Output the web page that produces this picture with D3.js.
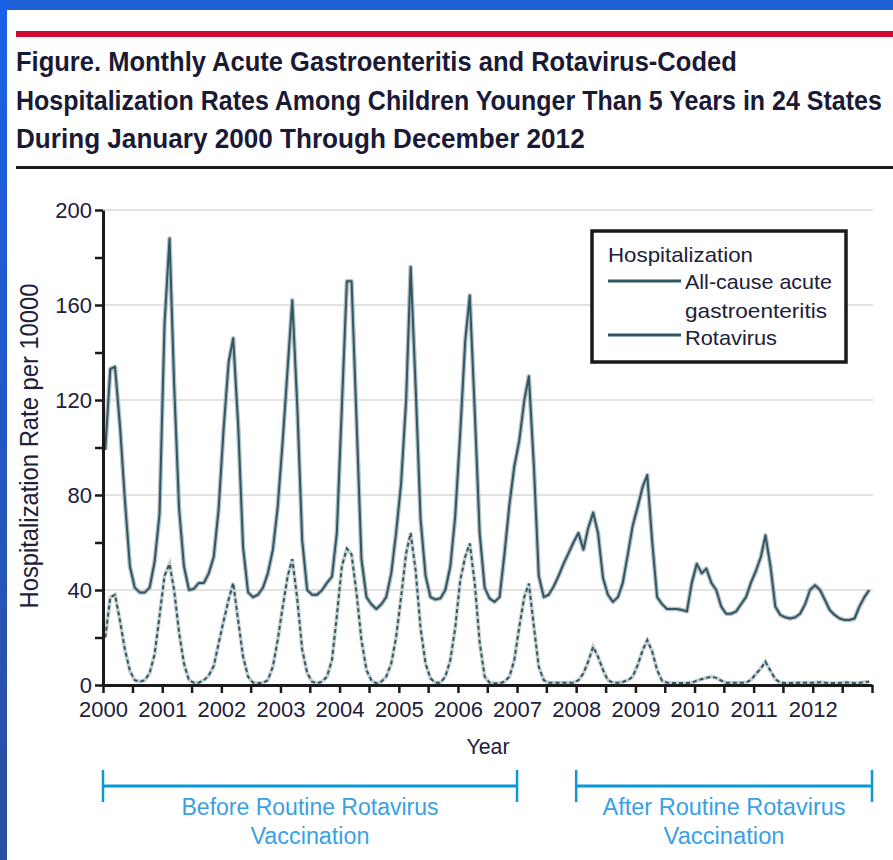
<!DOCTYPE html>
<html>
<head>
<meta charset="utf-8">
<script src="https://cdn.jsdelivr.net/npm/d3@7"></script>
<style>
  body { margin: 0; background: #ffffff; }
  svg { display: block; }
  text { font-family: "Liberation Sans", Arial, sans-serif; }
</style>
</head>
<body>
<svg id="chart" width="893" height="860"></svg>
<script>
// ---- Data -------------------------------------------------------------
const titleLines = [
  "Figure. Monthly Acute Gastroenteritis and Rotavirus-Coded",
  "Hospitalization Rates Among Children Younger Than 5 Years in 24 States",
  "During January 2000 Through December 2012"
];

const yearLabels = [2000, 2001, 2002, 2003, 2004, 2005, 2006, 2007, 2008, 2009, 2010, 2011, 2012];
const yTickLabels = [0, 40, 80, 120, 160, 200];

// Monthly hospitalization rate per 10 000, January 2000 - December 2012 (one row per year)
const allCause = [
  99, 133, 134, 109, 78, 50, 41, 39, 39, 41, 52, 72,
  152, 188, 127, 74, 50, 40, 40.5, 43, 43, 47, 54, 74,
  108, 136, 146, 109, 58, 39, 37, 38, 41, 47, 57, 75,
  103, 134, 162, 117, 61, 40, 38, 38, 40, 43, 45.6, 64,
  117, 170, 170, 111, 53, 37, 34, 32, 34, 37, 47, 64,
  85, 120, 176, 125, 70, 46, 37, 36, 36.5, 40, 50, 71,
  106, 145, 164, 115, 64, 41, 36.5, 35, 37, 55, 76, 92,
  103, 120, 130, 92, 46, 37, 38, 41.5, 46, 51, 55.5, 60,
  64, 57, 66, 72.6, 64, 45, 38, 35, 37, 43, 55, 67,
  75, 83.5, 88.4, 60, 37, 34, 32, 32, 32, 31.6, 31, 43,
  51, 47, 49, 43, 40, 33, 30, 30, 31, 34, 37, 43,
  48, 54, 63, 50, 33, 29.5, 28.5, 28, 28.5, 30, 34, 40,
  42, 40, 36, 31.6, 29.5, 28, 27.4, 27.4, 28, 33, 37, 40
];

const rotavirus = [
  20, 37, 38, 27, 15, 6, 2, 1.4, 2, 5, 13, 29,
  46, 51, 40, 22, 9, 2, 1, 1, 2, 4, 8, 17.5,
  27, 36, 43, 27, 12, 3.5, 1, 0.7, 1, 2, 7.7, 19,
  33, 46, 53, 36, 15, 5, 1.4, 0.7, 1.4, 3.5, 10.5, 29,
  50, 57.4, 55, 38.6, 19, 6.3, 2, 0.7, 1.4, 3.5, 9, 20,
  37, 55.5, 64, 48, 24, 9, 2.8, 1, 1, 3.5, 10.5, 24,
  44, 54, 59.6, 42.7, 18, 3.5, 1, 0.7, 0.7, 1.4, 3.5, 10.5,
  24.6, 37.2, 42.7, 24.6, 7.7, 2, 1, 1, 1, 1, 1, 1,
  2, 4.9, 9.8, 16.1, 11.9, 6.3, 2, 1, 1, 1.3, 2, 3.5,
  8.4, 14.7, 18.9, 14, 6.3, 1.7, 1, 0.8, 0.8, 0.8, 0.8, 1,
  1.8, 2.5, 3, 3.5, 3, 1.8, 1, 1, 1, 1, 1, 2.1,
  4.6, 7, 9.8, 6, 2.4, 1, 0.8, 0.8, 0.9, 1, 1, 1,
  1, 1.2, 1, 0.8, 0.8, 0.9, 1.1, 1, 0.8, 0.9, 1.2, 1.4
];

const legendTitle = "Hospitalization";
const legendItems = [
  ["All-cause acute", "gastroenteritis"],
  ["Rotavirus"]
];

const periodLabels = [
  ["Before Routine Rotavirus", "Vaccination"],
  ["After Routine Rotavirus", "Vaccination"]
];
const periodStarts = [[2000, 0], [2008, 0]];
const periodEnds = [[2007, 0], [2013, 0]];

// ---- Drawing ----------------------------------------------------------
const svg = d3.select("#chart");
const ink = "#20203a";
const lineDark = "#2f5765";
const lineHalo = "#b7c1c5";
const accent = "#0a98d8";

// squeeze a text horizontally to a target width, keeping its anchor point fixed
function fitWidth(sel, target, ax, ay) {
  const natural = sel.node().getComputedTextLength();
  const s = Math.min(1, target / natural);
  sel.attr("x", 0).attr("y", 0)
    .attr("transform", `translate(${ax},${ay}) scale(${s},1)`);
}

// page frame
const defs = svg.append("defs");
const grad = defs.append("linearGradient").attr("id", "edge").attr("x1", 0).attr("y1", 0).attr("x2", 0).attr("y2", 1);
grad.append("stop").attr("offset", "0%").attr("stop-color", "#1a60e6");
grad.append("stop").attr("offset", "100%").attr("stop-color", "#2b4e9f");
svg.append("rect").attr("x", 0).attr("y", 0).attr("width", 893).attr("height", 10).attr("fill", "#1f5fd8");
svg.append("rect").attr("x", 0).attr("y", 0).attr("width", 7).attr("height", 860).attr("fill", "url(#edge)");

// header rules and title
svg.append("rect").attr("x", 16).attr("y", 31).attr("width", 877).attr("height", 6).attr("fill", "#d10a33");
svg.append("rect").attr("x", 16).attr("y", 166).attr("width", 877).attr("height", 3).attr("fill", "#1a1a1a");

const titleLengths = [721, 866, 569];
const titleG = svg.append("g");
titleLines.forEach((t, i) => {
  const tx = titleG.append("text")
    .attr("font-size", 27)
    .attr("font-weight", "bold")
    .attr("fill", "#1a1a36")
    .text(t);
  fitWidth(tx, titleLengths[i], 16, 71 + i * 38.5);
});

// scales
const x = d3.scaleTime()
  .domain([new Date(2000, 0, 1), new Date(2013, 0, 1)])
  .range([103, 872]);
const y = d3.scaleLinear().domain([0, 200]).range([685, 210]);
const months = allCause.map((d, i) => new Date(2000, i, 15));

// gridlines
svg.append("g").selectAll("line").data(yTickLabels.filter(d => d > 0)).join("line")
  .attr("x1", 103).attr("x2", 873)
  .attr("y1", d => y(d)).attr("y2", d => y(d))
  .attr("stroke", "#e2e2e2").attr("stroke-width", 2);

// series
const line = d3.line().x((d, i) => x(months[i])).y(d => y(d));

const rota = svg.append("g");
rota.append("path").datum(rotavirus).attr("d", line)
  .attr("fill", "none").attr("stroke", "#c8cfd2").attr("stroke-width", 3.8);
rota.append("path").datum(rotavirus).attr("d", line)
  .attr("fill", "none").attr("stroke", lineDark).attr("stroke-width", 2)
  .attr("stroke-dasharray", "4,3");

const ac = svg.append("g");
ac.append("path").datum(allCause).attr("d", line)
  .attr("fill", "none").attr("stroke", lineHalo).attr("stroke-width", 4.5).attr("stroke-linejoin", "round");
ac.append("path").datum(allCause).attr("d", line)
  .attr("fill", "none").attr("stroke", lineDark).attr("stroke-width", 2).attr("stroke-linejoin", "round");

// y axis
const yAxis = svg.append("g").attr("transform", "translate(103,0)")
  .call(d3.axisLeft(y)
    .tickValues(d3.range(0, 201, 20))
    .tickSize(8).tickSizeOuter(0).tickPadding(3)
    .tickFormat(d => yTickLabels.includes(d) ? d : ""));
yAxis.select(".domain").attr("stroke", "#1a1a1a").attr("stroke-width", 3);
yAxis.selectAll(".tick line").attr("stroke", "#1a1a1a").attr("stroke-width", 2.5);
yAxis.selectAll(".tick text").attr("font-size", 22).attr("fill", ink)
  .attr("font-family", "'Liberation Sans', Arial, sans-serif");

// x axis
const xTicks = d3.timeMonth.every(6).range(new Date(2000, 0, 1), new Date(2013, 0, 2));
const xAxis = svg.append("g").attr("transform", "translate(0,685)")
  .call(d3.axisBottom(x)
    .tickValues(xTicks)
    .tickSize(8).tickSizeOuter(0).tickPadding(8)
    .tickFormat(d => (d.getMonth() === 0 && yearLabels.includes(d.getFullYear())) ? d.getFullYear() : ""));
xAxis.select(".domain").attr("stroke", "#1a1a1a").attr("stroke-width", 3);
xAxis.selectAll(".tick line").attr("stroke", "#1a1a1a").attr("stroke-width", 2.5);
xAxis.selectAll(".tick text").attr("font-size", 22).attr("fill", ink)
  .attr("font-family", "'Liberation Sans', Arial, sans-serif");

// axis titles
svg.append("text").attr("x", 488).attr("y", 754).attr("text-anchor", "middle")
  .attr("font-size", 22).attr("fill", ink)
  .attr("textLength", 43).attr("lengthAdjust", "spacingAndGlyphs")
  .text("Year");
svg.append("text").attr("transform", "translate(38,446) rotate(-90)")
  .attr("text-anchor", "middle").attr("font-size", 25).attr("fill", ink)
  .attr("textLength", 325).attr("lengthAdjust", "spacingAndGlyphs")
  .text("Hospitalization Rate per 10000");

// legend
const lg = svg.append("g");
lg.append("rect").attr("x", 592).attr("y", 231).attr("width", 254).attr("height", 131)
  .attr("fill", "#fff").attr("stroke", "#1a1a1a").attr("stroke-width", 3.5);
lg.append("text").attr("x", 608).attr("y", 262).attr("font-size", 21).attr("fill", ink)
  .attr("textLength", 145).attr("lengthAdjust", "spacingAndGlyphs").text(legendTitle);
const legendLineY = [281, 335];
const legendTextY = [[289, 318], [345]];
const legendTextLen = [[147, 142], [92]];
legendItems.forEach((rows, i) => {
  lg.append("line").attr("x1", 608).attr("x2", 681)
    .attr("y1", legendLineY[i]).attr("y2", legendLineY[i])
    .attr("stroke", lineDark).attr("stroke-width", 3);
  rows.forEach((t, j) => {
    lg.append("text").attr("x", 685).attr("y", legendTextY[i][j])
      .attr("font-size", 21).attr("fill", ink)
      .attr("textLength", legendTextLen[i][j]).attr("lengthAdjust", "spacingAndGlyphs")
      .text(t);
  });
});

// vaccination period brackets
const pg = svg.append("g");
const periodTextLen = [[257, 119], [243, 121]];
periodLabels.forEach((rows, i) => {
  const x0 = x(new Date(periodStarts[i][0], periodStarts[i][1], 1));
  const x1 = x(new Date(periodEnds[i][0], periodEnds[i][1], 1));
  pg.append("line").attr("x1", x0).attr("x2", x1).attr("y1", 786).attr("y2", 786)
    .attr("stroke", accent).attr("stroke-width", 3);
  [x0, x1].forEach(xx => {
    pg.append("line").attr("x1", xx).attr("x2", xx).attr("y1", 770).attr("y2", 802)
      .attr("stroke", accent).attr("stroke-width", 2.5);
  });
  rows.forEach((t, j) => {
    pg.append("text").attr("x", (x0 + x1) / 2).attr("y", 815 + j * 29)
      .attr("text-anchor", "middle").attr("font-size", 23).attr("fill", "#3aa0e4")
      .attr("textLength", periodTextLen[i][j]).attr("lengthAdjust", "spacingAndGlyphs")
      .text(t);
  });
});
</script>
</body>
</html>
